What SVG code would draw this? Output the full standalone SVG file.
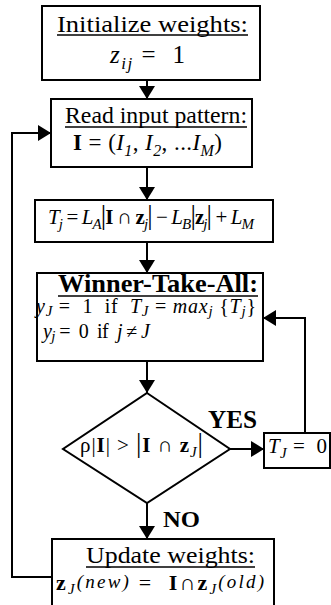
<svg xmlns="http://www.w3.org/2000/svg" width="331" height="605" viewBox="0 0 331 605">
<style>
text{font-family:"Liberation Serif","Times New Roman",serif;fill:#000}
.t{font-size:24px}
.tb{font-size:24px;font-weight:bold}
.m{font-size:21px}
.i{font-style:italic}
.b{font-weight:bold}
.s{font-size:15px;font-style:italic}
.bar{font-size:27px}
.box{fill:#fff;stroke:#000;stroke-width:2}
.ul{stroke:#000;stroke-width:1.5}
.c{fill:none;stroke:#000;stroke-width:2}
</style>
<defs>
<marker id="ah" markerWidth="14" markerHeight="18" refX="13" refY="8" orient="auto" markerUnits="userSpaceOnUse">
<path d="M0,0 L13,8 L0,16 z" fill="#000"/>
</marker>
</defs>
<g id="connectors">
<path class="c" d="M147,80 V99" marker-end="url(#ah)"/>
<path class="c" d="M147,167 V200" marker-end="url(#ah)"/>
<path class="c" d="M147,242 V273" marker-end="url(#ah)"/>
<path class="c" d="M147,361 V393" marker-end="url(#ah)"/>
<path class="c" d="M230,449 H264" marker-end="url(#ah)"/>
<path class="c" d="M305,433 V318 H263" marker-end="url(#ah)"/>
<path class="c" d="M147,503 V539" marker-end="url(#ah)"/>
<path class="c" d="M52,577 H12 V133 H51" marker-end="url(#ah)"/>
</g>
<g id="init">
<rect class="box" x="42" y="6" width="218" height="74"/>
<text class="t" x="57" y="32" textLength="191" lengthAdjust="spacingAndGlyphs">Initialize weights:</text>
<line class="ul" x1="57" y1="35" x2="248" y2="35"/>
<text x="110" y="63" style="font-size:25px" textLength="75" lengthAdjust="spacing"><tspan class="i">z</tspan><tspan class="s" style="font-size:17px" dy="6">ij</tspan><tspan dy="-6">&#160;=&#160; 1</tspan></text>
</g>
<g id="read">
<rect class="box" x="51" y="99" width="201" height="68"/>
<text class="t" x="65" y="123" textLength="182" lengthAdjust="spacingAndGlyphs">Read input pattern:</text>
<line class="ul" x1="65" y1="127" x2="247" y2="127"/>
<text x="73" y="150" style="font-size:23px" textLength="149" lengthAdjust="spacing"><tspan class="b">I</tspan>&#160;=&#160;(<tspan class="i">I</tspan><tspan class="s" style="font-size:16px" dy="6">1</tspan><tspan dy="-6">, </tspan><tspan class="i">I</tspan><tspan class="s" style="font-size:16px" dy="6">2</tspan><tspan dy="-6">, ...</tspan><tspan class="i">I</tspan><tspan class="s" style="font-size:16px" dy="6">M</tspan><tspan dy="-6">)</tspan></text>
</g>
<g id="activation">
<rect class="box" x="35" y="200" width="238" height="42"/>
<text class="m" x="48" y="224" textLength="206" lengthAdjust="spacing"><tspan class="i">T</tspan><tspan class="s" dy="5">j</tspan><tspan dy="-5"> = </tspan><tspan class="i">L</tspan><tspan class="s" dy="5">A</tspan><tspan class="bar" dy="-5">|</tspan><tspan class="b">I</tspan> ∩ <tspan class="b">z</tspan><tspan class="s" dy="5">j</tspan><tspan class="bar" dy="-5">|</tspan> − <tspan class="i">L</tspan><tspan class="s" dy="5">B</tspan><tspan class="bar" dy="-5">|</tspan><tspan class="b">z</tspan><tspan class="s" dy="5">j</tspan><tspan class="bar" dy="-5">|</tspan> + <tspan class="i">L</tspan><tspan class="s" dy="5">M</tspan></text>
</g>
<g id="wta">
<rect class="box" x="37" y="273" width="226" height="88"/>
<text class="tb" x="58" y="292" style="font-size:25px" textLength="200" lengthAdjust="spacingAndGlyphs">Winner-Take-All:</text>
<line class="ul" x1="58" y1="296" x2="258" y2="296"/>
<text x="36" y="313" style="font-size:20px" textLength="220" lengthAdjust="spacing"><tspan class="i">y</tspan><tspan class="s" dy="3">J</tspan><tspan dy="-3">&#160;=&#160; 1&#160; if&#160; </tspan><tspan class="i">T</tspan><tspan class="s" dy="3">J</tspan><tspan dy="-3"> = </tspan><tspan class="i">max</tspan><tspan class="s" dy="3">j</tspan><tspan dy="-3"> {</tspan><tspan class="i">T</tspan><tspan class="s" dy="3">j</tspan><tspan dy="-3">}</tspan></text>
<text x="43" y="338" style="font-size:20px" textLength="107" lengthAdjust="spacing"><tspan class="i">y</tspan><tspan class="s" dy="3">j</tspan><tspan dy="-3">&#160;=&#160; 0&#160; if&#160; </tspan><tspan class="i">j</tspan> ≠ <tspan class="i">J</tspan></text>
</g>
<g id="vigilance">
<polygon class="box" points="147,393 230,449 147,503 63,449"/>
<text class="m" x="80" y="452" textLength="123" lengthAdjust="spacing">ρ|<tspan class="b">I</tspan>| &gt; <tspan class="bar">|</tspan><tspan class="b">I</tspan> ∩ <tspan class="b">z</tspan><tspan class="s" dy="5">J</tspan><tspan class="bar" dy="-5">|</tspan></text>
</g>
<g id="reset">
<rect class="box" x="264" y="433" width="66" height="35"/>
<text class="m" x="268" y="453" textLength="59" lengthAdjust="spacing"><tspan class="i">T</tspan><tspan class="s" dy="5">J</tspan><tspan dy="-5">&#160;=&#160; 0</tspan></text>
</g>
<g id="labels">
<text class="tb" x="208" y="428" style="font-size:26px" textLength="49" lengthAdjust="spacingAndGlyphs">YES</text>
<text class="tb" x="163" y="527" textLength="37" lengthAdjust="spacingAndGlyphs">NO</text>
</g>
<g id="update">
<rect class="box" x="52" y="539" width="222" height="70"/>
<text class="t" x="86" y="563" textLength="169" lengthAdjust="spacingAndGlyphs">Update weights:</text>
<line class="ul" x1="86" y1="567" x2="255" y2="567"/>
<text x="56" y="590" style="font-size:22px" textLength="208" lengthAdjust="spacing"><tspan class="b">z</tspan><tspan class="s" dy="4">J</tspan><tspan class="i" dy="-6" style="font-size:19px">(new)</tspan><tspan dy="2">&#160;=&#160; </tspan><tspan class="b">I</tspan>∩<tspan class="b">z</tspan><tspan class="s" dy="4">J</tspan><tspan class="i" dy="-6" style="font-size:19px">(old)</tspan></text>
</g>
</svg>
